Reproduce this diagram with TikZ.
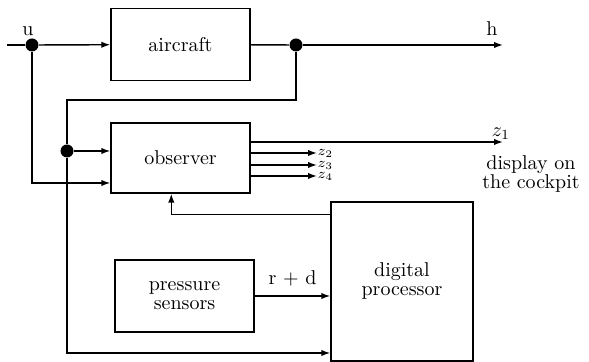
\documentclass[tikz,border=0pt]{standalone}
\usetikzlibrary{arrows.meta,positioning,calc}

\begin{document}
\begin{tikzpicture}[x=0.5pt,y=-0.5pt,>={Latex[length=4.5pt,width=3.2pt]},line width=0.7pt,
 blk/.style={draw,rectangle,minimum width=69.5pt,inner sep=0pt,align=center,font=\fontsize{10}{9.5}\selectfont},
 dot/.style={circle,fill,minimum size=6.5pt,inner sep=0pt},
 zl/.style={right,inner sep=0pt,font=\scriptsize}]
\useasboundingbox (0,0) rectangle (589,362);
% blocks
\node[blk,minimum height=36pt] (air) at (180.5,44.5) {aircraft};
\node[blk,minimum height=35pt] (obs) at (180.5,158) {observer};
\node[blk,minimum height=36pt] (sen) at (184.5,296) {pressure\\sensors};
\node[blk,minimum width=71pt,minimum height=79.5pt] (proc) at (402,281.5) {digital\\processor};
% junctions and free ends
\node[dot] (ju) at (32,45) {}; \node (ulab) at (28,31) {u};
\node[dot] (jh) at (296,45) {};
\node[dot] (jy) at (67,151) {};
\coordinate (in) at (7,45);
\coordinate (hend) at (503,45); \node (hlab) at (492,29) {h};
\coordinate (fb) at (67,100);
\coordinate (bl) at (67,353);
\coordinate (z1end) at (503,142);
\node[font=\fontsize{10}{9.5}\selectfont,align=center] (disp) at (531,174) {display on\\the cockpit};
% connections
\draw (in) -- (ju);
\draw[->] (ju) -- (air);
\draw[->] (ju) |- ($(obs.west)+(0,25)$);
\draw (air) -- (jh);
\draw[->] (jh) -- (hend);
\draw (jh) |- (fb) -- (jy);
\draw[->] (jy) -- (jy -| obs.west);
\draw[->] (jy) -- (bl) -- (bl -| proc.west);
\draw[->] ($(obs.east)+(0,-16)$) -- (z1end) node[above,inner sep=1pt,xshift=-1pt] {$z_1$};
\foreach \i/\y in {2/153,3/165,4/176}
  \draw[->] (obs.east |- 0,\y) -- (317,\y) node[zl] {$z_\i$};
\draw[->] ($(proc.north west)+(0,13)$) -| ($(obs.south west)+(61,0)$);
\draw[->] (sen.east) -- (sen.east -| proc.west) node[midway,above=1pt] {r $+$ d};
\end{tikzpicture}
\end{document}
